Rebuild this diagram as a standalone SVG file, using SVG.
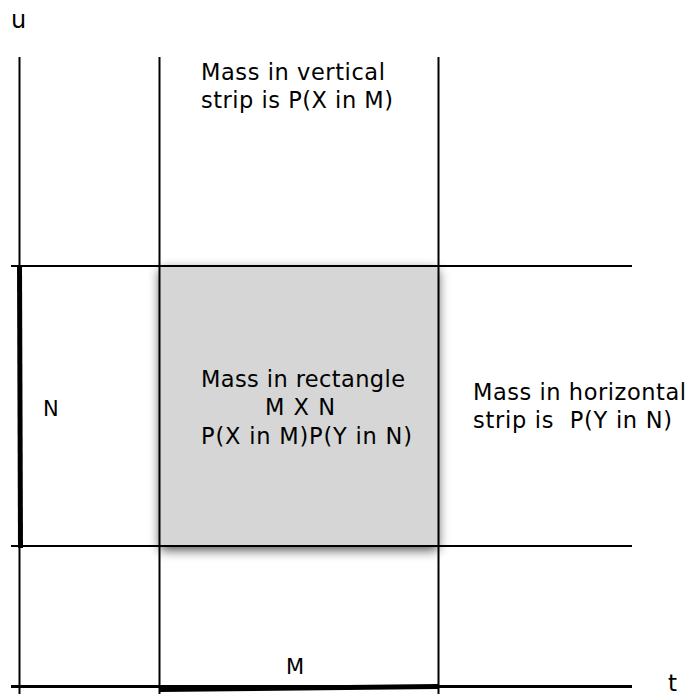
<svg xmlns="http://www.w3.org/2000/svg" width="688" height="694" viewBox="0 0 688 694">
<style>
.ln{stroke:#000;stroke-width:2;fill:none}
.thick{stroke:#000;stroke-width:5;fill:none}
text{font-family:"DejaVu Sans",Verdana,sans-serif;font-size:22.5px;fill:#000}
</style>
<defs>
<filter id="sh" x="-20%" y="-20%" width="140%" height="140%">
<feGaussianBlur in="SourceAlpha" stdDeviation="6"/>
<feOffset dx="0" dy="4" result="b"/>
<feComponentTransfer><feFuncA type="linear" slope="0.7"/></feComponentTransfer>
<feMerge><feMergeNode/><feMergeNode in="SourceGraphic"/></feMerge>
</filter>
</defs>
<rect width="688" height="694" fill="#fff"/>
<g id="rectangle">
<rect x="160" y="266" width="278" height="280" fill="#d6d6d6" filter="url(#sh)"/>
</g>
<g id="connectors">
<line class="ln" x1="19.5" y1="57" x2="19.5" y2="694"/>
<line class="ln" x1="159.5" y1="57" x2="159.5" y2="694"/>
<line class="ln" x1="438.5" y1="57" x2="438.5" y2="694"/>
<line class="ln" x1="11" y1="266" x2="632" y2="266"/>
<line class="ln" x1="11" y1="546" x2="632" y2="546"/>
<line class="ln" x1="11" y1="686.5" x2="632" y2="686.5" style="stroke-width:3"/>
<line class="thick" x1="19.5" y1="265" x2="20.5" y2="548" style="stroke-width:5"/>
<line class="thick" x1="160" y1="689.5" x2="438" y2="686.5"/>
</g>
<g id="labels">
<text x="11" y="28" style="font-size:24px">u</text>
<text x="668" y="691" style="font-size:23px">t</text>
<text x="43" y="416" style="font-size:21px">N</text>
<text x="286" y="674" style="font-size:21px">M</text>
</g>
<g id="vertical-strip">
<text x="201" y="80" textLength="184" lengthAdjust="spacing">Mass in vertical</text>
<text x="201" y="108" textLength="192" lengthAdjust="spacing">strip is P(X in M)</text>
</g>
<g id="rect-text">
<text x="201" y="387" textLength="204" lengthAdjust="spacing">Mass in rectangle</text>
<text x="265" y="415" textLength="70" lengthAdjust="spacing">M X N</text>
<text x="201" y="444" textLength="211" lengthAdjust="spacing">P(X in M)P(Y in N)</text>
</g>
<g id="horizontal-strip">
<text x="473" y="400" textLength="213" lengthAdjust="spacing">Mass in horizontal</text>
<text x="473" y="428" xml:space="preserve" textLength="199" lengthAdjust="spacing">strip is  P(Y in N)</text>
</g>
</svg>
